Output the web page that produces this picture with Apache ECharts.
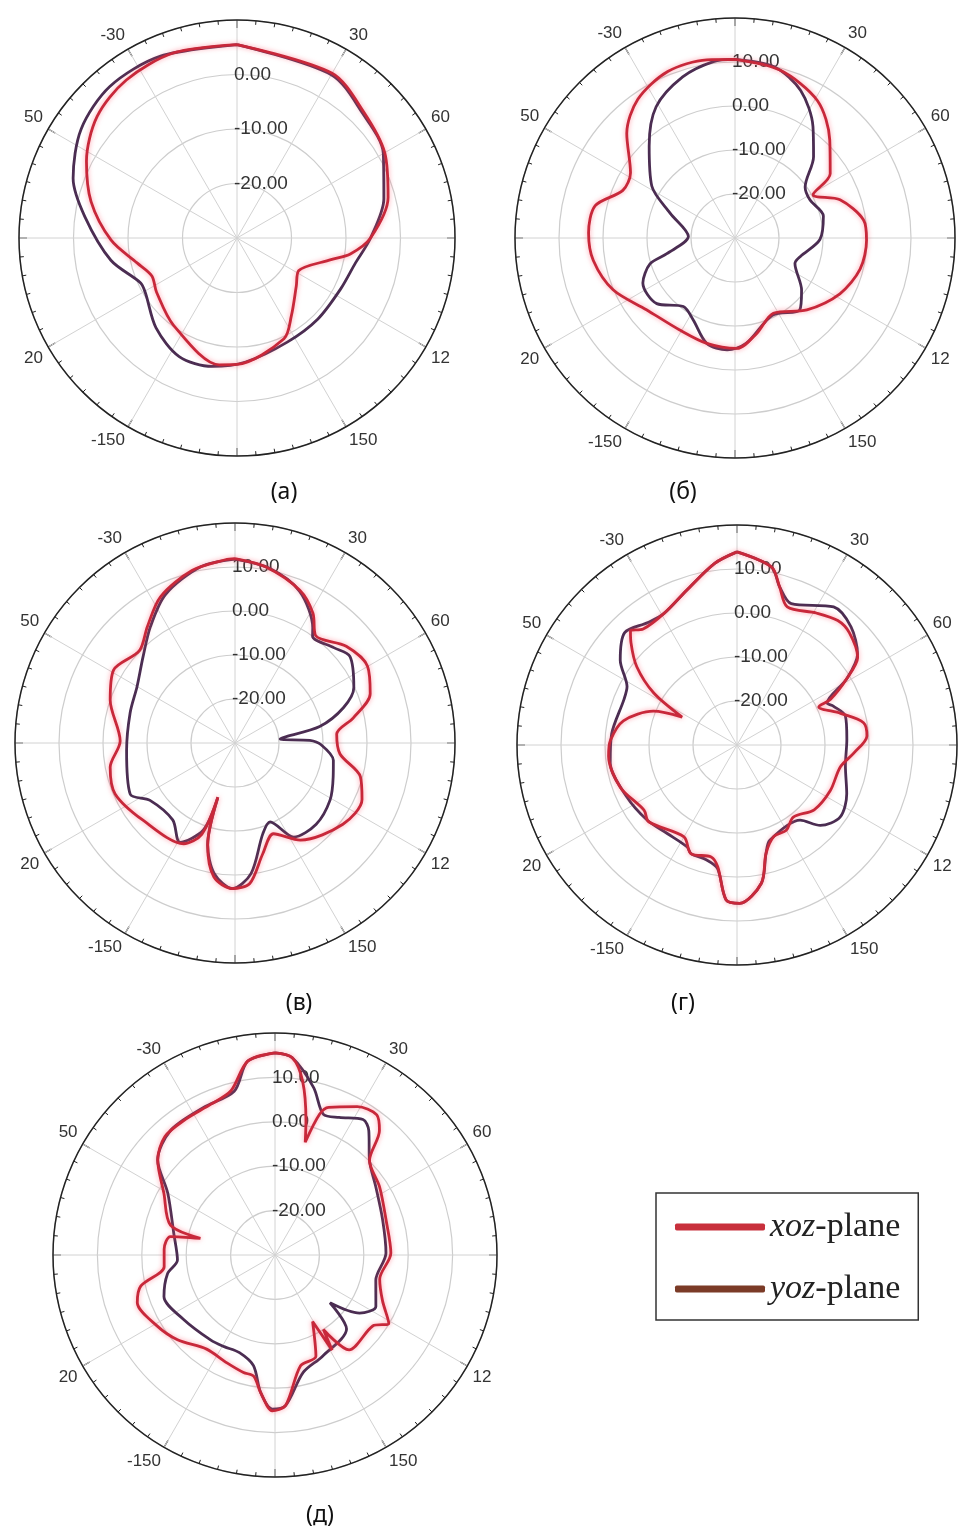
<!DOCTYPE html>
<html>
<head>
<meta charset="utf-8">
<title>radiation patterns</title>
<script src="https://cdn.jsdelivr.net/npm/echarts@6/dist/echarts.min.js"></script>
<style>
html,body{margin:0;padding:0;background:#fff;}
#main{width:960px;height:1538px;}
</style>
</head>
<body>
<div id="main"></div>
<script>
// angles in degrees, clockwise from top; gain in dB
// (а)
var aXozAng = [0, 30, 45, 60, 75, 90, 98, 103, 118, 129, 145, 155, 180, 188, 216, 236, 246, 256, 269, 284, 297, 311, 325, 341, 360];
var aXozDb  = [5.5, 4.9, 2.8, 1.3, -1.3, -5.5, -9, -12.3, -17.2, -16, -12.6, -9.6, -6.8, -6.5, -10.2, -12.2, -12.9, -11.1, -6.9, -2.4, 1.0, 4.0, 5.4, 5.9, 5.5];
var aYozAng = [0, 30, 45, 60, 75, 90, 102, 116, 135, 154, 176, 191, 206, 222, 239, 245, 260, 278, 290, 305, 320, 337, 360];
var aYozDb  = [5.5, 4.6, 2.5, 1.0, -2.1, -5.5, -7.8, -8.8, -9.0, -8.8, -7.2, -6.0, -5.8, -7.8, -10.4, -10.5, -6.5, -1.8, 2.0, 4.9, 6.3, 6.2, 5.5];
// (б)
var bXozAng = [0, 15, 31, 44, 56, 61, 70, 82, 91, 104, 118, 135, 153, 167, 179, 195, 211, 231, 247, 261, 272, 283, 293, 302, 314, 325, 338, 351, 360];
var bXozDb  = [10.6, 9.5, 6.4, 1.0, -3.9, -9.7, -4.6, -0.5, -0.1, -0.7, -3.0, -6.9, -10.8, -7.8, -4.9, -5.2, -5.6, -4.1, 0.1, 2.6, 3.3, 2.6, -2.3, -2.0, 4.2, 8.5, 10.8, 11.0, 10.6];
var bYozAng = [0, 13, 24, 35, 44, 54, 63, 76, 91, 106, 113, 128, 138, 154, 174, 184, 195, 207, 217, 230, 244, 253, 257, 272, 291, 302, 317, 329, 342, 353, 360];
var bYozDb  = [10.6, 9.9, 6.7, 0.9, -4.3, -10.3, -10.9, -9.3, -10.7, -14.6, -15.2, -10.8, -8.0, -10.5, -5.9, -4.5, -5.2, -9.1, -10.5, -6.8, -6.7, -9.8, -14.1, -19.4, -14.2, -7.7, -1.4, 4.8, 8.5, 10.4, 10.6];
// (в)
var cXozAng = [0, 10, 23, 31, 37, 49, 60, 70, 78, 85, 96, 105, 114, 127, 146, 157, 166, 174, 181, 189, 195, 197.5, 200, 207, 230, 247, 259, 271, 289, 301, 314, 323, 333, 346, 357, 360];
var cXozDb  = [11.9, 10.6, 7.7, 4.4, 0.5, 3.5, 4.8, 2.7, -2.5, -6.8, -6.0, -0.5, 1.6, 0.7, -3.4, -7.6, -4.0, 2.1, 3.1, 0.8, -6.0, -17.1, -7.9, -4.3, -2.7, -0.4, -1.1, -3.9, 0.0, 2.2, 0.2, 3.1, 7.3, 10.4, 11.7, 11.9];
var cYozAng = [0, 11, 23, 34, 36, 46, 53, 65, 72, 79, 85, 88, 91, 100, 109, 121, 135, 148, 156, 163, 173, 181, 189, 195, 197.5, 200, 209, 219, 236, 244, 266, 286, 300, 313, 324, 335, 349, 360];
var cYozDb  = [11.8, 10.5, 7.5, 1.6, 0.0, 1.2, 2.7, -0.2, -4.1, -10.4, -19.7, -13, -10.5, -7.3, -6.4, -4.8, -3.9, -4.8, -10.4, -8.4, -0.1, 3.1, 0.1, -6, -17, -8.9, -4.2, -7.5, -6.7, -3.5, -5.3, -5.2, -4.3, -1.4, 2.7, 7.3, 10.8, 11.8];
// (г)
var dXozAng = [0, 11, 15, 20, 31, 39, 45, 54, 59, 64, 65, 73, 80, 86, 94, 102, 116, 130, 142, 150, 158, 165, 170, 179, 184, 189, 193, 203, 210, 229, 235, 250, 265, 272, 282, 292, 297, 302, 308, 314, 317, 321, 331, 342, 353, 360];
var dXozDb  = [13.9, 11.2, 7.3, 3.4, 5.0, 6.4, 6.1, 3.9, -1.0, -6.4, -9.5, -5.4, -0.8, -0.4, -3.4, -6.0, -6.4, -7.1, -9.2, -7.6, -7.6, -4.5, 1.9, 6.0, 5.3, -2.0, -3.9, -3.2, -5.9, -3.4, -4.2, -1.8, -0.7, -1.2, -3.6, -9.5, -16, -7.7, -1.1, 3.5, 5.5, 3.9, 4.2, 7.0, 11.6, 13.9];
var dYozAng = [0, 11, 15, 21, 35, 44, 53, 59, 65, 68, 75, 87, 101, 114, 125, 134, 140, 161, 165, 170, 179, 184, 189, 195, 203, 206, 218, 230, 245, 262, 275, 292, 298, 306, 315, 324, 331, 342, 353, 360];
var dYozDb  = [13.9, 11.2, 7.3, 4.4, 8.3, 7.3, 4.3, -1.0, -7.4, -6.4, -4.5, -5.0, -4.9, -2.7, -1.4, -3.7, -7.7, -7.1, -4.5, 1.9, 6.0, 5.3, -1.6, -3.0, -3.2, -4.2, -4.4, -3.4, -2.3, -0.9, -1.4, -2.3, -1.7, 2.8, 6.1, 4.4, 4.2, 7.0, 11.6, 13.9];
// (д)
var eXozAng = [0, 5, 9, 13, 15, 17.6, 20, 29, 36, 40, 45, 57, 73, 89, 103, 113, 121, 126, 142, 147, 149, 150.5, 158, 167, 176, 181, 186, 190, 195, 204, 216, 229, 239, 251, 257, 264, 273, 280, 282.5, 286, 299, 309, 317, 326, 337, 345, 352, 360];
var eXozDb  = [15.5, 14.6, 9.7, 1.0, -3.7, 3.3, 5.4, 8.2, 9.0, 6.6, 0.1, -1.9, -3.8, -3.9, -5.8, -3.7, -0.1, -2.8, -2.9, -10, -5, -12.8, -5.4, -4.4, 4.0, 5.1, 1.1, -2.3, -2.6, -3.4, -3.8, -0.9, 1.0, 2.8, 1.0, -4.9, -5.0, -6.1, -12.8, -5.5, -1.4, 4.0, 6.4, 6.6, 6.9, 8.3, 14.1, 15.5];
var eYozAng = [0, 5, 13, 19, 25, 33, 37, 45, 56, 72, 89, 104, 117, 124.5, 131, 136, 155, 166.5, 176, 181, 186, 191, 200, 209, 217, 235, 249.5, 260, 267, 282, 300, 309, 320, 334, 346, 352, 360];
var eYozDb  = [15.5, 14.6, 8.7, 3.5, 4.2, 6.4, 5.1, 0.1, -2.6, -4.5, -5.0, -6.6, -4.5, -6.9, -13.6, -6.8, -4.8, -2.8, 4.0, 4.7, 1.1, -4.6, -6.6, -6.4, -6.0, -4.8, -3.3, -5.4, -8.0, -6.7, -2.1, 4.0, 6.6, 6.9, 8.0, 14.1, 15.5];

var radiusMax = [10, 20, 20, 20, 20];
var angleLabels = {30: '30', 60: '60', 120: '12', 150: '150', 210: '-150', 240: '20', 300: '50', 330: '-30'};
var captions = ['(а)', '(б)', '(в)', '(г)', '(д)'];
var seriesNames = ['xoz-plane', 'yoz-plane'];

var xozSets = [[aXozAng, aXozDb], [bXozAng, bXozDb], [cXozAng, cXozDb], [dXozAng, dXozDb], [eXozAng, eXozDb]];
var yozSets = [[aYozAng, aYozDb], [bYozAng, bYozDb], [cYozAng, cYozDb], [dYozAng, dYozDb], [eYozAng, eYozDb]];

// layout
var centers = [[237, 238], [735, 238], [235, 743], [737, 745], [275, 1255]];
var radii = [218, 220, 220, 220, 222];
var captionPos = [[284, 492], [683, 492], [299, 1003], [683, 1003], [320, 1515]];

var red = '#c8283a';
var dark = '#4b2d52';

function pairs(ang, db) {
    var out = [];
    var n = Math.min(ang.length, db.length);
    for (var i = 0; i < n; i++) out.push([db[i], ang[i]]);
    return out;
}

var polar = [], angleAxis = [], radiusAxis = [], series = [], graphic = [];
for (var k = 0; k < 5; k++) {
    polar.push({center: centers[k], radius: radii[k]});
    angleAxis.push({
        polarIndex: k, type: 'value', min: 0, max: 360, interval: 30,
        startAngle: 90, clockwise: true,
        axisLine: {lineStyle: {color: '#222', width: 1.5}},
        axisTick: {show: true, inside: true, length: 8, lineStyle: {color: '#222', width: 1.2}},
        minorTick: {show: true, splitNumber: 6, length: 4, lineStyle: {color: '#222', width: 1}},
        splitLine: {show: true, lineStyle: {color: '#d2d2d2', width: 1}},
        axisLabel: {
            margin: 6, fontSize: 17, color: '#333', fontFamily: 'Liberation Sans',
            formatter: function (v) { return angleLabels[v] || ''; }
        }
    });
    (function (max) {
        radiusAxis.push({
            polarIndex: k, type: 'value', min: -30, max: max, interval: 10,
            axisLine: {show: false}, axisTick: {show: false},
            splitLine: {show: true, lineStyle: {color: '#cdcdcd', width: 1.2}},
            axisLabel: {
                fontSize: 19, color: '#333', fontFamily: 'Liberation Sans', align: 'left', margin: 3,
                formatter: function (v) { return (v <= -30 || v >= max) ? '' : v.toFixed(2); }
            }
        });
    })(radiusMax[k]);
    series.push({
        name: seriesNames[1], type: 'line', coordinateSystem: 'polar', polarIndex: k,
        data: pairs(yozSets[k][0], yozSets[k][1]), showSymbol: false, smooth: 0.3,
        lineStyle: {color: dark, width: 2.8}, itemStyle: {color: dark}, z: 3
    });
    series.push({
        name: seriesNames[0], type: 'line', coordinateSystem: 'polar', polarIndex: k,
        data: pairs(xozSets[k][0], xozSets[k][1]), showSymbol: false, smooth: 0.3,
        lineStyle: {color: red, width: 2.8, shadowColor: 'rgba(255,90,110,0.6)', shadowBlur: 5}, itemStyle: {color: red}, z: 4
    });
    graphic.push({
        type: 'text', x: captionPos[k][0], y: captionPos[k][1],
        style: {text: captions[k], align: 'center', verticalAlign: 'middle', font: '23px "Noto Sans"', fill: '#111'}
    });
}

var chart = echarts.init(document.getElementById('main'));
chart.setOption({
    animation: false,
    backgroundColor: '#fff',
    polar: polar,
    angleAxis: angleAxis,
    radiusAxis: radiusAxis,
    legend: {
        orient: 'vertical', left: 656, top: 1193,
        padding: [17, 18, 14, 19], itemGap: 28,
        borderColor: '#333', borderWidth: 1.5,
        icon: 'roundRect', itemWidth: 90, itemHeight: 7,
        data: [
            {name: 'xoz-plane', itemStyle: {color: '#c8303c'}},
            {name: 'yoz-plane', itemStyle: {color: '#7b3b27'}}
        ],
        formatter: function (name) { return '{i|' + name.slice(0, 3) + '}' + name.slice(3); },
        textStyle: {
            fontFamily: 'Liberation Serif', fontSize: 34, color: '#222',
            rich: {i: {fontFamily: 'Liberation Serif', fontSize: 34, fontStyle: 'italic', color: '#222'}}
        }
    },
    graphic: graphic,
    series: series
});
</script>
</body>
</html>
